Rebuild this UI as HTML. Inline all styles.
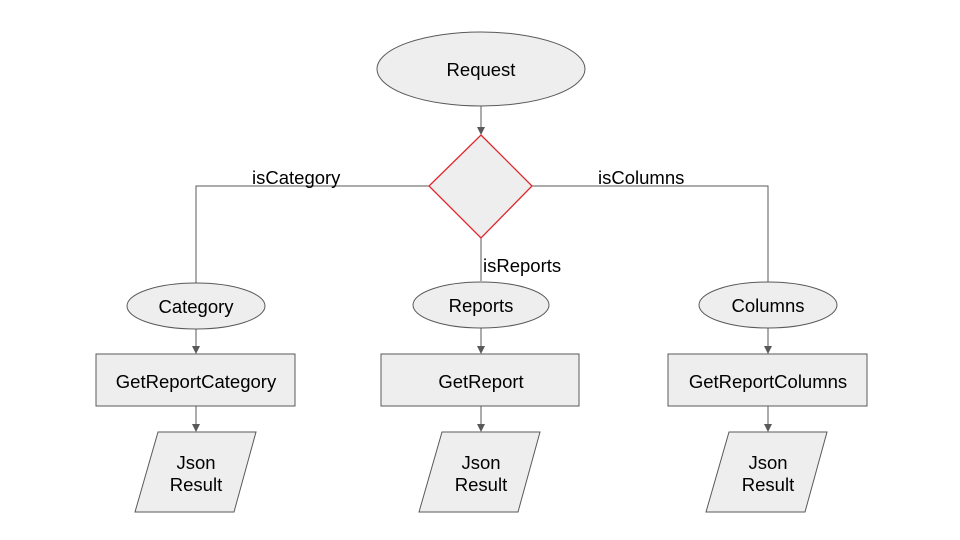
<!DOCTYPE html>
<html><head><meta charset="utf-8"><style>
html,body{margin:0;padding:0;background:#fff;}
svg{display:block;}
text{font-family:"Liberation Sans",Arial,sans-serif;font-size:18.5px;fill:#000;}
</style></head><body>
<svg width="960" height="540" viewBox="0 0 960 540" xmlns="http://www.w3.org/2000/svg">
<defs><marker id="a" markerWidth="8" markerHeight="8" refX="7" refY="4" orient="auto" markerUnits="userSpaceOnUse"><path d="M0,0 L8,4 L0,8 Z" fill="#595959"/></marker></defs>
<g stroke="#595959" stroke-width="1" fill="none">
<line x1="481" y1="106" x2="481" y2="134" marker-end="url(#a)"/>
<polyline points="429,186 196,186 196,283"/>
<polyline points="532,186 768,186 768,282"/>
<line x1="481" y1="238" x2="481" y2="281"/>
<line x1="196" y1="329" x2="196" y2="353" marker-end="url(#a)"/>
<line x1="481" y1="328" x2="481" y2="353" marker-end="url(#a)"/>
<line x1="768" y1="328" x2="768" y2="353" marker-end="url(#a)"/>
<line x1="196" y1="406" x2="196" y2="431" marker-end="url(#a)"/>
<line x1="481" y1="406" x2="481" y2="431" marker-end="url(#a)"/>
<line x1="768" y1="406" x2="768" y2="431" marker-end="url(#a)"/>
</g>
<g fill="#eeeeee" stroke="#595959" stroke-width="1">
<ellipse cx="481" cy="69" rx="104" ry="37"/>
<ellipse cx="196" cy="306" rx="69" ry="23"/>
<ellipse cx="481" cy="305" rx="68" ry="23"/>
<ellipse cx="768" cy="305" rx="69" ry="23"/>
<rect x="96" y="354" width="199" height="52"/>
<rect x="381" y="354" width="198" height="52"/>
<rect x="668" y="354" width="199" height="52"/>
<polygon points="158,432 256,432 234,512 135,512"/>
<polygon points="442,432 540,432 518,512 419,512"/>
<polygon points="729,432 827,432 805,512 706,512"/>
</g>
<polygon points="481,135 532,186 481,238 429,186" fill="#eeeeee" stroke="#e0262b" stroke-width="1.3"/>
<g text-anchor="middle">
<text x="481" y="76">Request</text>
<text x="196" y="313">Category</text>
<text x="481" y="312">Reports</text>
<text x="768" y="312">Columns</text>
<text x="196" y="388">GetReportCategory</text>
<text x="481" y="388">GetReport</text>
<text x="768" y="388">GetReportColumns</text>
<text x="196" y="469">Json</text><text x="196" y="491">Result</text>
<text x="481" y="469">Json</text><text x="481" y="491">Result</text>
<text x="768" y="469">Json</text><text x="768" y="491">Result</text>
</g>
<text x="252" y="184">isCategory</text>
<text x="598" y="184">isColumns</text>
<text x="483" y="272">isReports</text>
</svg>
</body></html>
